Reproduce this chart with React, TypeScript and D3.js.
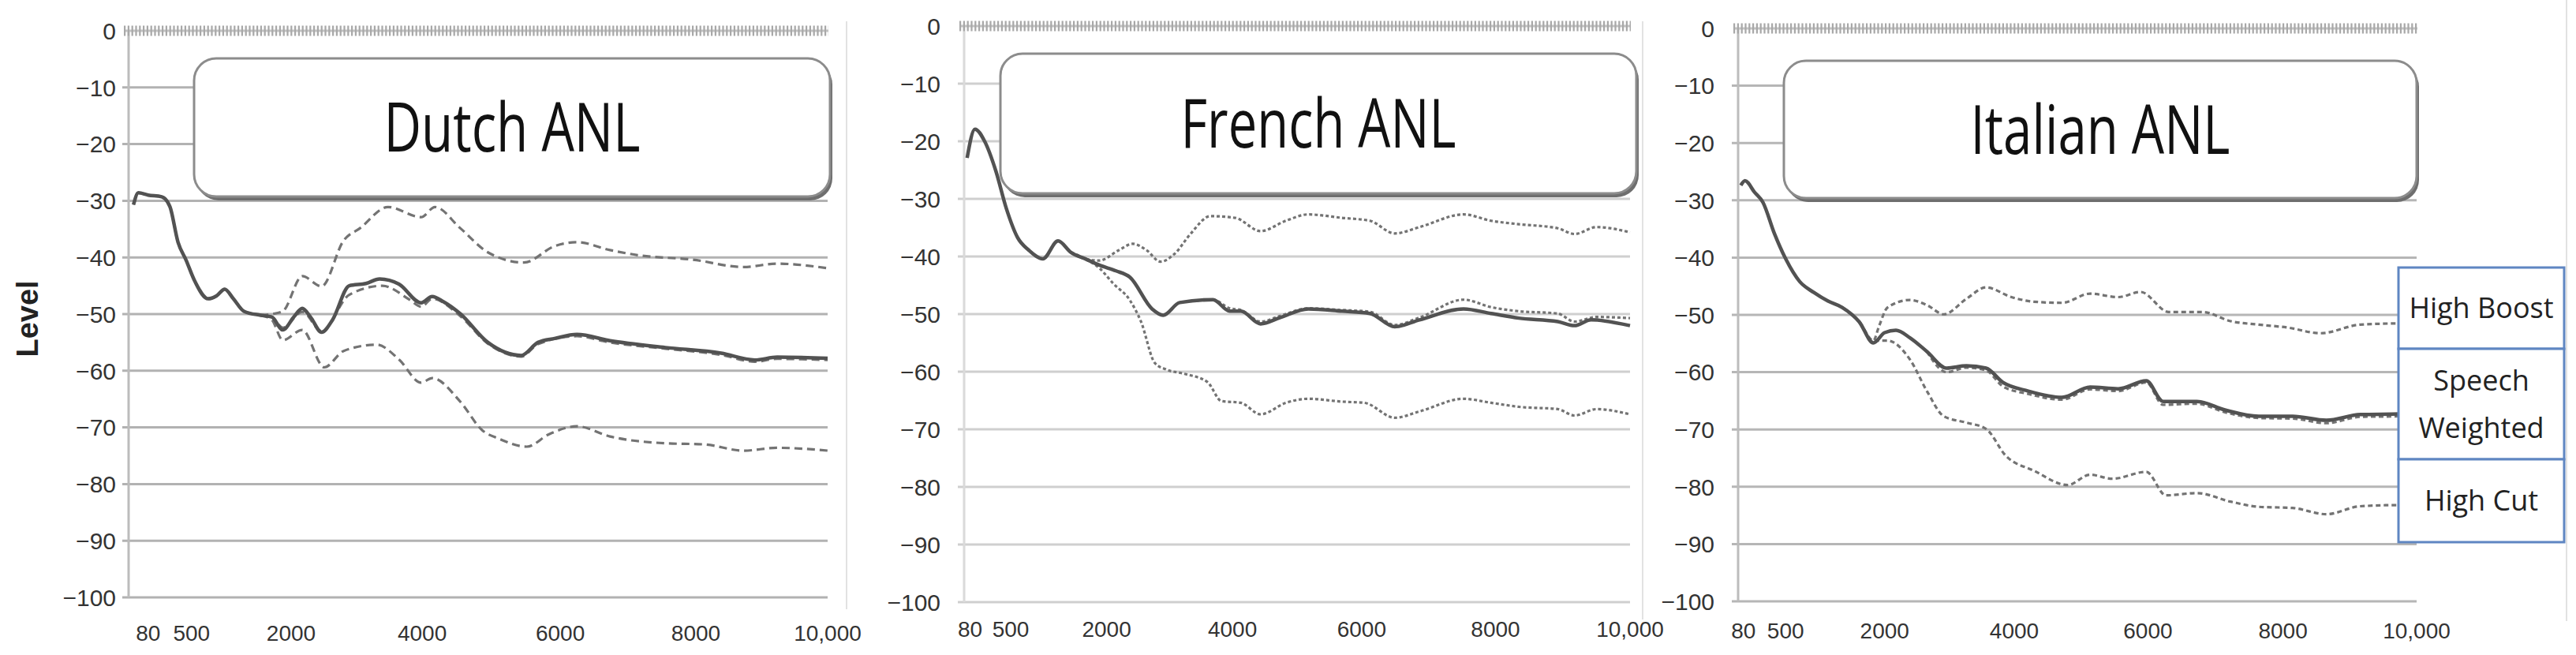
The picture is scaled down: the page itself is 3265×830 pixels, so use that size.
import React from "react";
import * as d3 from "d3";

// tick values and labels
const xTicks = [80, 500, 2000, 4000, 6000, 8000, 10000];
const xTickLabels = ["80", "500", "2000", "4000", "6000", "8000", "10,000"];
const yTicks = [0, -10, -20, -30, -40, -50, -60, -70, -80, -90, -100];
const legendLabels = [["High Boost"], ["Speech", "Weighted"], ["High Cut"]];

// [frequency, level]
const dutchAnl = [[20, -30.7], [40, -28.6], [80, -29], [211, -29.3], [290, -31], [369, -37.3], [448, -40.5], [542, -44], [750, -47.3], [875, -46.8], [1000, -45.6], [1125, -47.2], [1290, -49.5], [1540, -50.2], [1708, -50.5], [1875, -52.8], [2042, -50.5], [2170, -49], [2295, -50.5], [2464, -53.2], [2633, -51], [2886, -45], [3140, -44.6], [3350, -43.8], [3645, -44.7], [3983, -48], [4145, -46.9], [4306, -47.8], [4548, -49.9], [4951, -55], [5435, -57.3], [5677, -55], [5919, -54.3], [6245, -53.6], [6734, -54.7], [7551, -55.9], [8383, -56.9], [8894, -58.1], [9234, -57.6], [10000, -57.8]];
const dutchSpeech = [[20, -30.7], [40, -28.6], [80, -29], [211, -29.3], [290, -31], [369, -37.3], [448, -40.5], [542, -44], [750, -47.3], [875, -46.8], [1000, -45.6], [1125, -47.2], [1290, -49.5], [1540, -50.2], [1708, -50.5], [1875, -52.4], [2170, -49.6], [2464, -53], [2886, -46.6], [3392, -45], [3814, -47.5], [3983, -48.7], [4145, -47.3], [4548, -50.3], [4951, -55.2], [5435, -57.5], [5677, -55.3], [6245, -53.9], [6734, -55], [7551, -56.1], [8383, -57.2], [8894, -58.4], [9234, -57.9], [10000, -58.1]];
const dutchBoost = [[1540, -50.2], [1708, -50], [1875, -49.5], [2170, -43.3], [2464, -45.1], [2802, -37], [3056, -34.8], [3477, -31.1], [3983, -32.9], [4185, -31.1], [4548, -34.8], [4951, -39.1], [5475, -40.9], [5919, -38], [6245, -37.3], [6734, -38.7], [7142, -39.6], [7959, -40.4], [8723, -41.7], [9234, -41.1], [10000, -41.9]];
const dutchCut = [[1540, -50.2], [1708, -51], [1875, -54.6], [2170, -52.8], [2506, -59.4], [2802, -56.5], [3308, -55.4], [3645, -58], [3983, -62.1], [4145, -61.3], [4548, -65.4], [4870, -70.5], [5112, -72], [5515, -73.4], [5838, -71.2], [6245, -69.8], [6734, -71.6], [7551, -72.8], [8128, -73], [8723, -74.1], [9234, -73.6], [10000, -74.1]];

const frenchAnl = [[40, -22.9], [130, -17.9], [230, -20], [345, -25.1], [455, -31.7], [606, -36.7], [782, -38.9], [1003, -40.4], [1240, -37.3], [1443, -39.3], [1664, -40.4], [1885, -41.5], [2150, -42.5], [2370, -43.6], [2722, -49.1], [2898, -50.2], [3162, -48], [3691, -47.5], [3956, -49.5], [4130, -49.5], [4435, -51.7], [4740, -50.6], [5174, -49.1], [5696, -49.5], [6123, -49.9], [6494, -52.2], [6864, -51], [7522, -49.1], [7934, -49.9], [8347, -50.7], [8926, -51.3], [9174, -52], [9421, -51], [10000, -52]];
const frenchSpeech = [[3162, -48], [3691, -47.5], [3956, -49], [4130, -49.3], [4435, -51.3], [4740, -50.3], [5174, -49], [5696, -49.3], [6123, -49.6], [6494, -51.9], [6864, -50.6], [7522, -47.5], [7934, -48.8], [8347, -49.5], [8926, -49.9], [9174, -51.3], [9504, -50.5], [10000, -50.7]];
const frenchBoost = [[1443, -39.3], [1664, -40.4], [1885, -40.7], [2194, -38.9], [2414, -37.8], [2634, -38.9], [2854, -40.9], [3074, -39.6], [3339, -36], [3647, -33], [4043, -33.3], [4435, -35.6], [4827, -33.8], [5174, -32.7], [5696, -33.3], [6123, -33.8], [6494, -36], [6864, -34.9], [7522, -32.7], [7934, -33.8], [8347, -34.4], [8926, -35.1], [9174, -36.1], [9504, -34.9], [10000, -35.8]];
const frenchCut = [[1443, -39.3], [1664, -40.4], [1885, -42], [2106, -44.7], [2370, -47.6], [2546, -51.3], [2766, -58.5], [2942, -59.6], [3250, -60.4], [3603, -61.8], [3824, -65.1], [4130, -65.4], [4435, -67.4], [4827, -65.4], [5174, -64.7], [5696, -65.2], [6041, -65.4], [6494, -68], [6864, -66.9], [7522, -64.7], [7934, -65.4], [8347, -66.1], [8926, -66.5], [9174, -67.6], [9504, -66.5], [10000, -67.4]];

const italianAnl = [[40, -27.4], [95, -26.6], [190, -28.6], [275, -30.4], [388, -35.8], [500, -40.2], [714, -44.2], [929, -46.1], [1143, -47.6], [1357, -48.7], [1614, -51.2], [1829, -54.9], [2000, -53.1], [2174, -52.7], [2391, -54], [2652, -56.4], [2957, -59.3], [3261, -58.9], [3565, -59.3], [3826, -61.8], [4210, -63.3], [4714, -64.4], [5134, -62.6], [5555, -62.9], [5975, -61.5], [6225, -65.1], [6725, -65.1], [7141, -66.6], [7641, -67.7], [8143, -67.7], [8650, -68.4], [9156, -67.4], [9747, -67.3], [10000, -67.2]];
const italianSpeech = [[2652, -56.4], [2957, -60], [3261, -59.2], [3565, -59.7], [3826, -62.5], [4210, -63.8], [4714, -64.8], [5134, -63], [5555, -63.3], [5975, -61.8], [6225, -65.7], [6725, -65.5], [7141, -67], [7641, -68], [8143, -68.1], [8650, -68.9], [9156, -67.8], [9747, -67.7], [10000, -67.5]];
const italianBoost = [[1357, -48.7], [1614, -51.2], [1829, -54.5], [1914, -52], [2044, -48.7], [2391, -47.4], [2652, -48.3], [2913, -49.9], [3261, -47.2], [3565, -45.2], [3957, -46.9], [4294, -47.7], [4714, -47.9], [5134, -46.3], [5555, -46.9], [5891, -46], [6308, -49.5], [6808, -49.5], [7225, -51.1], [7641, -51.7], [8059, -52.2], [8565, -53.2], [9156, -51.7], [9747, -51.5], [10000, -51.5]];
const italianCut = [[1357, -48.7], [1614, -51.2], [1829, -54.5], [2044, -54.5], [2391, -57.8], [2652, -63.3], [2913, -67.7], [3261, -68.8], [3565, -69.9], [3870, -74.6], [4294, -77.2], [4798, -79.7], [5134, -77.9], [5470, -78.6], [5975, -77.4], [6267, -81.5], [6725, -81.1], [7225, -82.6], [7641, -83.5], [8143, -83.7], [8650, -84.8], [9156, -83.4], [9747, -83.2], [10000, -83.2]];

const freqKnots = [0, 80, 500, 2000, 4000, 6000, 8000, 10000];

const panels = [
  {
    title: "Dutch ANL", left: 163, right: 1049, top: 39, bottom: 757, labelGap: 16, tickY: 802,
    frac: [0, 0.028, 0.09, 0.2325, 0.42, 0.6175, 0.8115, 1],
    grid: "#b2b2b2", axis: "#bcbcbc", box: { x: 246, y: 74, w: 806, h: 175 }, titleW: 325,
    dash: "10 6", solid: dutchAnl, dashed: [dutchSpeech, dutchBoost, dutchCut],
  },
  {
    title: "French ANL", left: 1222, right: 2066, top: 33, bottom: 763, labelGap: 30, tickY: 797,
    frac: [0, 0.009, 0.07, 0.214, 0.403, 0.597, 0.798, 1],
    grid: "#cfcfcf", axis: "#dadada", box: { x: 1268, y: 68, w: 806, h: 177 }, titleW: 349,
    dash: "4 3", solid: frenchAnl, dashed: [frenchSpeech, frenchBoost, frenchCut],
  },
  {
    title: "Italian ANL", left: 2203, right: 3063, top: 36, bottom: 762, labelGap: 30, tickY: 799,
    frac: [0, 0.008, 0.07, 0.216, 0.407, 0.604, 0.803, 1],
    grid: "#b6b6b6", axis: "#bcbcbc", box: { x: 2261, y: 77, w: 802, h: 174 }, titleW: 329,
    dash: "6 4", solid: italianAnl, dashed: [italianSpeech, italianBoost, italianCut],
  },
];

const separators = [
  { x: 1073, y1: 27, y2: 772 },
  { x: 2082, y1: 27, y2: 785 },
  { x: 3253, y1: 0, y2: 787 },
];

const legendBoxes = [
  { y: 339, h: 103 },
  { y: 442, h: 140 },
  { y: 582, h: 105 },
];

const fmt = d3.format("d");
const numFont = "'Liberation Sans', Arial, Helvetica, sans-serif";
const titleFont = "'Open Sans', 'Noto Sans', sans-serif";

function Panel({ p }: { p: any }) {
  const width = p.right - p.left;
  const x = d3.scaleLinear().domain(freqKnots).range(p.frac.map((f: number) => p.left + f * width));
  const y = d3.scaleLinear().domain([0, -100]).range([p.top, p.bottom]);
  const line = d3
    .line<number[]>()
    .x((d) => x(d[0]))
    .y((d) => y(d[1]))
    .curve(d3.curveMonotoneX);

  const b = p.box;
  return (
    <g>
      {yTicks.filter((t) => t !== 0).map((t) => (
        <line key={t} x1={p.left - 8} x2={p.right} y1={y(t)} y2={y(t)} stroke={p.grid} strokeWidth={3} />
      ))}
      <line x1={p.left} x2={p.left} y1={y(0)} y2={y(-100)} stroke={p.axis} strokeWidth={3} />
      {/* hatched zero line */}
      <line x1={p.left - 6} x2={p.right + 1} y1={y(0)} y2={y(0)} stroke="#c4c4c4" strokeWidth={3} />
      <line x1={p.left - 6} x2={p.right + 1} y1={y(0)} y2={y(0)} stroke="#a8a8a8" strokeWidth={13} strokeDasharray="2.2 2.6" />

      {yTicks.map((t) => (
        <text key={t} x={p.left - p.labelGap} y={y(t)} dy="0.36em" textAnchor="end" fontFamily={numFont} fontSize={30} fill="#333">
          {fmt(t)}
        </text>
      ))}
      {xTicks.map((t, i) => (
        <text key={t} x={x(t)} y={p.tickY} dy="0.36em" textAnchor="middle" fontFamily={numFont} fontSize={28} fill="#333">
          {xTickLabels[i]}
        </text>
      ))}

      {p.dashed.map((s: number[][], i: number) => (
        <path key={i} d={line(s) || ""} fill="none" stroke="#737373" strokeWidth={3.2} strokeDasharray={p.dash} />
      ))}
      <path d={line(p.solid) || ""} fill="none" stroke="#525252" strokeWidth={4.5} strokeLinejoin="round" />

      <rect x={b.x + 3} y={b.y + 5} width={b.w} height={b.h} rx={28} fill="#6e6e6e" />
      <rect x={b.x} y={b.y} width={b.w} height={b.h} rx={28} fill="#fff" stroke="#8c8c8c" strokeWidth={3} />
      <text
        x={b.x + b.w / 2}
        y={b.y + b.h / 2}
        dy="0.36em"
        textAnchor="middle"
        fontFamily={titleFont}
        fontSize={86}
        fontWeight={500}
        fill="#111"
        textLength={p.titleW}
        lengthAdjust="spacingAndGlyphs"
      >
        {p.title}
      </text>
    </g>
  );
}

export default function App() {
  return (
    <svg width={3265} height={830} style={{ position: "absolute", left: 0, top: 0, background: "#fff" }}>
      <rect width={3265} height={830} fill="#fff" />
      {separators.map((s, i) => (
        <line key={i} x1={s.x} x2={s.x} y1={s.y1} y2={s.y2} stroke="#e2e2e2" strokeWidth={2} />
      ))}
      {panels.map((p) => (
        <Panel key={p.title} p={p} />
      ))}
      <text
        transform="translate(34,404) rotate(-90)"
        textAnchor="middle"
        dy="0.36em"
        fontFamily={numFont}
        fontWeight="bold"
        fontSize={38}
        fill="#222"
      >
        Level
      </text>
      {legendBoxes.map((lb, i) => (
        <g key={i}>
          <rect x={3040} y={lb.y} width={210} height={lb.h} fill="#fff" stroke="#5f86c2" strokeWidth={3} />
          {legendLabels[i].map((t, j) => {
            const n = legendLabels[i].length;
            const cy = lb.y + lb.h / 2 + (j - (n - 1) / 2) * 60;
            return (
              <text
                key={t}
                x={3145}
                y={cy}
                dy="0.36em"
                textAnchor="middle"
                fontFamily={titleFont}
                fontSize={36}
                fill="#222"
              >
                {t}
              </text>
            );
          })}
        </g>
      ))}
    </svg>
  );
}
